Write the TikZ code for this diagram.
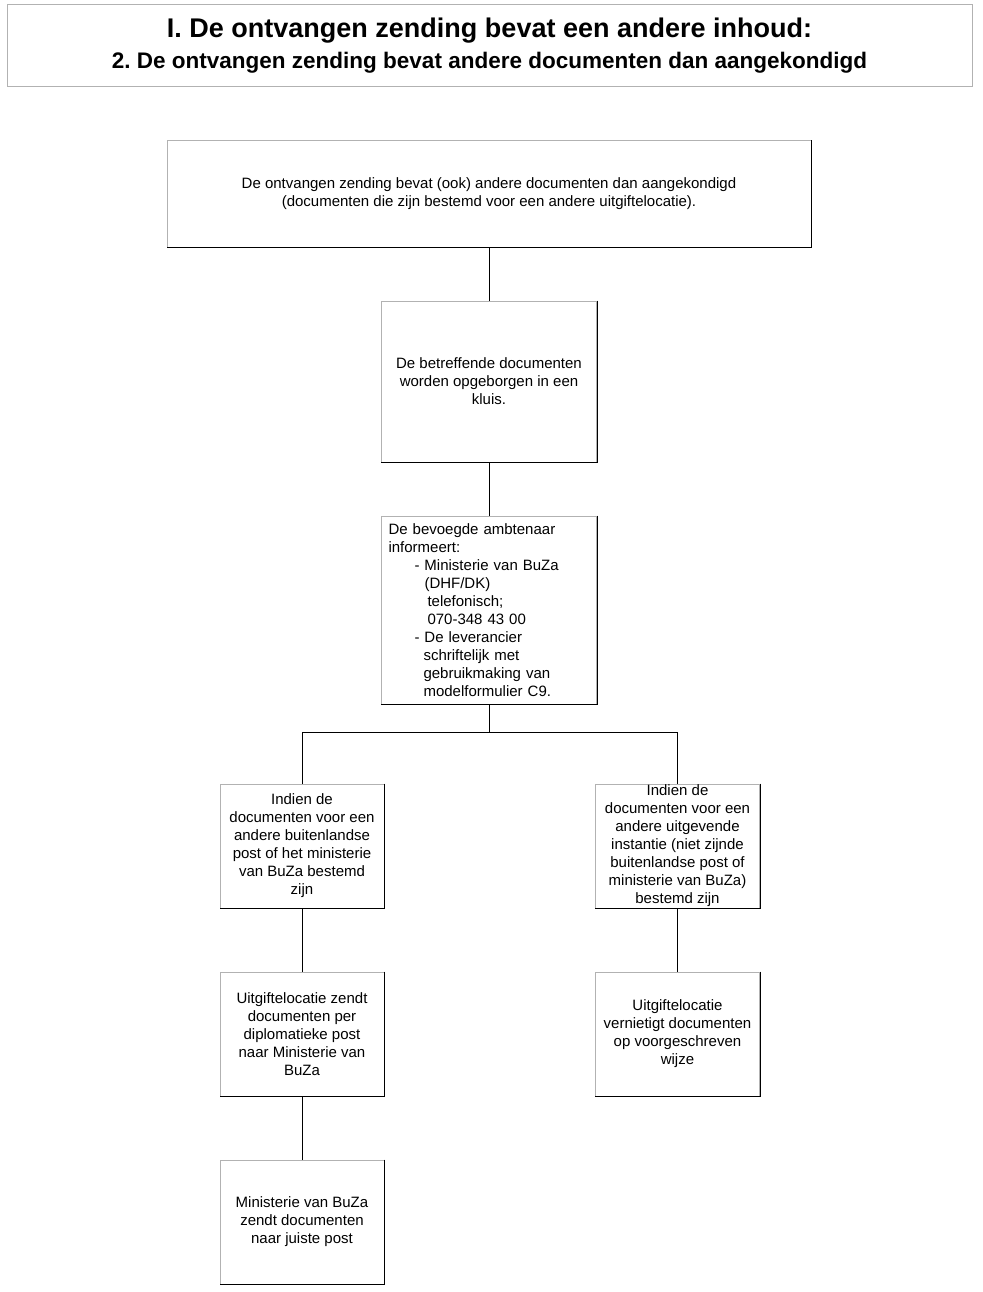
\documentclass[tikz,border=0pt]{standalone}
\usepackage{fontspec}
\setmainfont{Liberation Sans}
\usetikzlibrary{positioning,calc}
\frenchspacing

\begin{document}
\begin{tikzpicture}[
    x=1pt, y=-1pt,
    box/.style={draw=gray!60, line width=1pt, align=center, inner sep=3pt,
        font=\fontsize{15}{18}\selectfont,
        append after command={(\tikzlastnode.north east) edge[black, line width=1pt] (\tikzlastnode.south east)
            (\tikzlastnode.south east) edge[black, line width=1pt] (\tikzlastnode.south west)}},
    smallbox/.style={box, minimum width=164pt, minimum height=124pt},
    conn/.style={line width=1pt, draw=black}
]
\useasboundingbox (0,0) rectangle (982,1292);

% --- Title ---
\node[draw=gray!60, line width=1pt, minimum width=965pt, minimum height=82pt, align=center] (title) at (489.5,46)
    {{\fontsize{27}{30}\selectfont\bfseries I. De ontvangen zending bevat een andere inhoud:}\\[8pt]
     {\fontsize{22.5}{24}\selectfont\bfseries 2. De ontvangen zending bevat andere documenten dan aangekondigd}};

% --- Main column ---
\node[box, minimum width=644pt, minimum height=106pt] (start) at (489,194)
    {De ontvangen zending bevat (ook) andere documenten dan aangekondigd\\
     (documenten die zijn bestemd voor een andere uitgiftelocatie).};
\node[box, minimum width=215pt, minimum height=161pt] (kluis) at (489,381.5)
    {De betreffende documenten\\worden opgeborgen in een\\kluis.};
\node[box, minimum width=215pt, minimum height=188pt, text width=201pt, inner xsep=7pt, align=left] (info) at (489,610)
    {De bevoegde ambtenaar\\
     informeert:\\
     \hspace*{26pt}- Ministerie van BuZa\\
     \hspace*{36pt}(DHF/DK)\\
     \hspace*{39pt}telefonisch;\\
     \hspace*{39pt}070-348 43 00\\
     \hspace*{26pt}- De leverancier\\
     \hspace*{35pt}schriftelijk met\\
     \hspace*{35pt}gebruikmaking van\\
     \hspace*{35pt}modelformulier C9.};

% --- Branches ---
\coordinate (split) at (489,732);
\node[smallbox] (buza) at (302,846)
    {Indien de\\documenten voor een\\andere buitenlandse\\post of het ministerie\\van BuZa bestemd\\zijn};
\node[smallbox, inner ysep=0pt] (ander) at (677.5,846)
    {Indien de\\documenten voor een\\andere uitgevende\\instantie (niet zijnde\\buitenlandse post of\\ministerie van BuZa)\\bestemd zijn};
\node[smallbox] (zendt) at (302,1034)
    {Uitgiftelocatie zendt\\documenten per\\diplomatieke post\\naar Ministerie van\\BuZa};
\node[smallbox] (vernietigt) at (677.5,1034)
    {Uitgiftelocatie\\vernietigt documenten\\op voorgeschreven\\wijze};
\node[smallbox] (juist) at (302,1222)
    {Ministerie van BuZa\\zendt documenten\\naar juiste post};

% --- Connectors ---
\draw[conn] (start) -- (kluis);
\draw[conn] (kluis) -- (info);
\draw[conn] (info.south) -- (split) -| (buza.north);
\draw[conn] (split) -| (ander.north);
\draw[conn] (buza) -- (zendt);
\draw[conn] (zendt) -- (juist);
\draw[conn] (ander) -- (vernietigt);
\end{tikzpicture}
\end{document}
